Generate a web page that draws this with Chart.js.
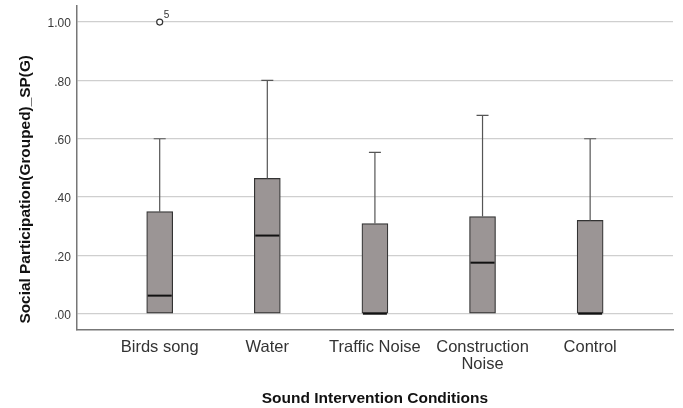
<!DOCTYPE html>
<html>
<head>
<meta charset="utf-8">
<script src="https://cdn.jsdelivr.net/npm/chart.js@4/dist/chart.umd.min.js"></script>
<style>
  html, body { margin: 0; padding: 0; background: #fff; }
  #wrap { width: 683px; height: 408px; }
</style>
</head>
<body>
<div id="wrap"><canvas id="boxChart"></canvas></div>
<script>
// values
var categories = ['Birds song', 'Water', 'Traffic Noise', ['Construction', 'Noise'], 'Control'];
var q1 = [0, 0, 0, 0, 0];
var q3 = [0.35, 0.464, 0.309, 0.333, 0.32];
var medians = [0.062, 0.268, 0, 0.175, 0];
var whiskerLow = [0, 0, 0, 0, 0];
var whiskerHigh = [0.60, 0.80, 0.553, 0.68, 0.60];
var outlierCat = [0];
var outlierVal = [1.00];
var outlierCase = ['5'];
var yTicks = [0, 0.2, 0.4, 0.6, 0.8, 1.0];

var boxData = categories.map(function (c, i) { return { x: i, y: [q1[i], q3[i]] }; });

// whiskers, medians and outliers on top of the floating bars
var boxExtras = {
  id: 'boxExtras',
  afterDatasetsDraw: function (chart) {
    var ctx = chart.ctx, xs = chart.scales.x, ys = chart.scales.y;
    ctx.save();
    for (var i = 0; i < categories.length; i++) {
      var cx = xs.getPixelForValue(i);
      ctx.strokeStyle = '#555';
      ctx.lineWidth = 1.2;
      ctx.beginPath();
      ctx.moveTo(cx, ys.getPixelForValue(q3[i]));
      ctx.lineTo(cx, ys.getPixelForValue(whiskerHigh[i]));
      ctx.moveTo(cx - 6, ys.getPixelForValue(whiskerHigh[i]));
      ctx.lineTo(cx + 6, ys.getPixelForValue(whiskerHigh[i]));
      ctx.stroke();
      ctx.strokeStyle = '#111';
      ctx.lineWidth = 2;
      ctx.beginPath();
      ctx.moveTo(cx - 12, ys.getPixelForValue(medians[i]));
      ctx.lineTo(cx + 12, ys.getPixelForValue(medians[i]));
      ctx.stroke();
    }
    for (var j = 0; j < outlierVal.length; j++) {
      var ox = xs.getPixelForValue(outlierCat[j]), oy = ys.getPixelForValue(outlierVal[j]);
      ctx.strokeStyle = '#333';
      ctx.lineWidth = 1.2;
      ctx.fillStyle = '#fff';
      ctx.beginPath();
      ctx.arc(ox, oy, 3, 0, Math.PI * 2);
      ctx.fill();
      ctx.stroke();
      ctx.fillStyle = '#333';
      ctx.font = '10px Arial';
      ctx.textAlign = 'left';
      ctx.textBaseline = 'bottom';
      ctx.fillText(outlierCase[j], ox + 4, oy - 2);
    }
    ctx.restore();
  }
};

new Chart(document.getElementById('boxChart'), {
  type: 'bar',
  data: {
    datasets: [{
      data: boxData,
      backgroundColor: '#9b9595',
      borderColor: '#333',
      borderWidth: 1.2,
      borderSkipped: false,
      barThickness: 26
    }]
  },
  options: {
    responsive: true,
    maintainAspectRatio: false,
    animation: false,
    layout: { padding: { top: 0, right: 10, left: 17, bottom: 0 } },
    plugins: { legend: { display: false }, tooltip: { enabled: false } },
    scales: {
      x: {
        type: 'linear',
        offset: false,
        min: -0.77,
        max: 4.77,
        afterBuildTicks: function (axis) {
          axis.ticks = categories.map(function (c, i) { return { value: i }; });
        },
        ticks: {
          autoSkip: false,
          maxRotation: 0,
          color: '#333',
          font: { family: 'Arial', size: 16.5, lineHeight: 1.05 },
          padding: 9,
          callback: function (v) { return categories[v]; }
        },
        grid: { display: false, drawTicks: false },
        border: { display: true, color: '#777', width: 1.5 },
        title: {
          display: true,
          text: 'Sound Intervention Conditions',
          color: '#111',
          font: { family: 'Arial', size: 15.5, weight: 'bold' },
          padding: { top: 7, bottom: 0 }
        }
      },
      y: {
        min: -0.055,
        max: 1.055,
        afterBuildTicks: function (axis) {
          axis.ticks = yTicks.map(function (v) { return { value: v }; });
        },
        ticks: {
          color: '#3a3a3a',
          font: { family: 'Arial', size: 12, lineHeight: 0.01 },
          padding: 6,
          labelOffset: 2,
          callback: function (v) { return v.toFixed(2).replace(/^0/, ''); }
        },
        grid: { color: '#cfcfcf', lineWidth: 1.3, drawTicks: false },
        border: { display: true, color: '#777', width: 1.5 },
        title: {
          display: true,
          // trailing spaces push the SPSS-style title a little below centre
          text: 'Social Participation(Grouped)_SP(G)          ',
          color: '#111',
          font: { family: 'Arial', size: 15.4, weight: 'bold' },
          padding: { top: 0, bottom: 6 }
        }
      }
    }
  },
  plugins: [boxExtras]
});
</script>
</body>
</html>
